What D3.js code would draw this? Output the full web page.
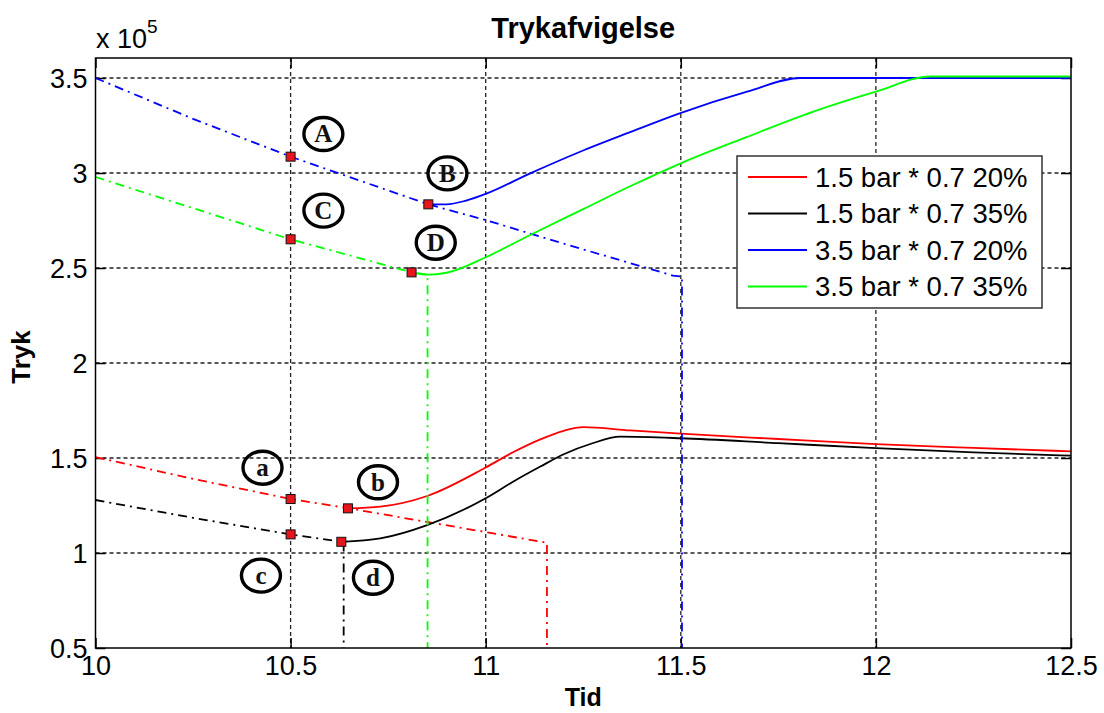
<!DOCTYPE html>
<html>
<head>
<meta charset="utf-8">
<script src="https://cdn.jsdelivr.net/npm/d3@7/dist/d3.min.js"></script>
<style>
  html, body { margin: 0; padding: 0; background: #fff; }
  svg { display: block; }
</style>
</head>
<body>
<svg id="chart" width="1104" height="713"></svg>
<script>
// ---------------- data (pressure in units of 1e5) ----------------
const xTicks = [10, 10.5, 11, 11.5, 12, 12.5];
const yTicks = [0.5, 1, 1.5, 2, 2.5, 3, 3.5];
const xTickLabels = ["10", "10.5", "11", "11.5", "12", "12.5"];
const yTickLabels = ["0.5", "1", "1.5", "2", "2.5", "3", "3.5"];

const seriesNames = ["1.5 bar * 0.7 20%", "1.5 bar * 0.7 35%", "3.5 bar * 0.7 20%", "3.5 bar * 0.7 35%"];
const seriesColors = ["#ff0000", "#000000", "#0000ff", "#00ff00"];

// dash-dot (pre-event) parts, ending with the vertical drop
const red20Dash   = [[10,1.505],[10.25,1.39],[10.5,1.284],[10.65,1.235],[10.82,1.174],[11.0,1.11],[11.157,1.054],[11.157,0.5]];
const black35Dash = [[10,1.279],[10.25,1.185],[10.5,1.098],[10.636,1.057],[10.636,0.5]];
const blue20Dash  = [[10,3.5],[10.25,3.285],[10.5,3.086],[10.853,2.835],[11.0,2.752],[11.2,2.628],[11.48,2.46],[11.503,2.455],[11.503,0.5]];
const green35Dash = [[10,2.979],[10.25,2.815],[10.5,2.651],[10.81,2.477],[10.851,2.465],[10.851,0.5]];

// solid (response) parts
const red20Solid   = [[10.647,1.235],[10.73,1.244],[10.85,1.30],[11.0,1.45],[11.07,1.53],[11.14,1.598],[11.2,1.643],[11.25,1.662],[11.37,1.645],[11.5,1.628],[11.75,1.60],[12.0,1.573],[12.25,1.553],[12.5,1.535]];
const black35Solid = [[10.63,1.059],[10.73,1.077],[10.85,1.147],[11.0,1.288],[11.07,1.375],[11.14,1.455],[11.2,1.52],[11.27,1.575],[11.345,1.612],[11.5,1.604],[11.75,1.578],[12.0,1.552],[12.25,1.53],[12.5,1.512]];
const blue20Solid  = [[10.853,2.835],[10.9,2.835],[10.95,2.855],[11.0,2.89],[11.114,2.998],[11.242,3.112],[11.37,3.215],[11.497,3.314],[11.67,3.428],[11.806,3.50],[12.5,3.50]];
const green35Solid = [[10.81,2.477],[10.85,2.465],[10.9,2.475],[10.999,2.555],[11.114,2.674],[11.25,2.81],[11.37,2.93],[11.5,3.051],[11.67,3.19],[11.84,3.323],[12.0,3.428],[12.14,3.508],[12.5,3.508]];

// red square markers
const markerPts = [[10.5,3.086],[10.853,2.835],[10.5,2.651],[10.81,2.477],[10.5,1.284],[10.647,1.235],[10.5,1.098],[10.63,1.059]];
// circled annotation letters
const noteLetters = ["A","B","C","D","a","b","c","d"];
const notePos = [[10.584,3.205],[10.902,2.998],[10.584,2.802],[10.872,2.633],[10.428,1.449],[10.724,1.372],[10.424,0.881],[10.711,0.870]];

// ---------------- layout ----------------
const SANS = "'Liberation Sans', Arial, sans-serif";
const SERIF = "'Liberation Serif', 'Times New Roman', serif";
const svg = d3.select("#chart");
const L = 95.5, R = 1071, T = 58, B = 648;
const x = d3.scaleLinear().domain([10, 12.5]).range([L, R]);
const y = d3.scaleLinear().domain([0.5, 3.6]).range([B, B - 3.1 * 190]);

// grid
const grid = svg.append("g").attr("stroke", "#222").attr("stroke-width", 1.3).attr("stroke-dasharray", "4,3");
xTicks.filter(v => v > 10 && v < 12.5).forEach(v => {
  grid.append("line").attr("x1", x(v)).attr("x2", x(v)).attr("y1", T).attr("y2", B);
});
yTicks.filter(v => v > 0.5).forEach(v => {
  grid.append("line").attr("x1", L).attr("x2", R).attr("y1", y(v)).attr("y2", y(v));
});

// axes using d3 axis generators (ticks inward, labels outside)
const fontSize = 27;
const xAxis = svg.append("g").attr("transform", `translate(0,${B})`)
  .call(d3.axisBottom(x).tickValues(xTicks).tickFormat((d, i) => xTickLabels[i]).tickSizeInner(-10).tickSizeOuter(0).tickPadding(12));
const yAxis = svg.append("g").attr("transform", `translate(${L},0)`)
  .call(d3.axisLeft(y).tickValues(yTicks).tickFormat((d, i) => yTickLabels[i]).tickSizeInner(-10).tickSizeOuter(0).tickPadding(8));
const xTop = svg.append("g").attr("transform", `translate(0,${T})`)
  .call(d3.axisTop(x).tickValues(xTicks).tickFormat("").tickSizeInner(-10).tickSizeOuter(0));
const yRight = svg.append("g").attr("transform", `translate(${R},0)`)
  .call(d3.axisRight(y).tickValues(yTicks).tickFormat("").tickSizeInner(-10).tickSizeOuter(0));
[xAxis, yAxis, xTop, yRight].forEach(g => {
  g.select(".domain").remove();
  g.selectAll("line").attr("stroke", "#000").attr("stroke-width", 1.5);
  g.selectAll("text").style("font-size", fontSize + "px").style("font-family", SANS).attr("fill", "#000");
});
xAxis.selectAll("text").attr("dy", "0.55em");
yAxis.selectAll("text").attr("dy", "0.36em");

// series
const lineLin = d3.line().x(d => x(d[0])).y(d => y(d[1]));
const lineSmooth = d3.line().x(d => x(d[0])).y(d => y(d[1])).curve(d3.curveMonotoneX);
const plot = svg.append("g");
const dashes = [red20Dash, black35Dash, blue20Dash, green35Dash];
const solids = [red20Solid, black35Solid, blue20Solid, green35Solid];
for (let i = 0; i < 4; i++) {
  plot.append("path").attr("d", lineLin(dashes[i])).attr("fill", "none")
    .attr("stroke", seriesColors[i]).attr("stroke-width", 1.8).attr("stroke-dasharray", "9,5,2,5");
  plot.append("path").attr("d", lineSmooth(solids[i])).attr("fill", "none")
    .attr("stroke", seriesColors[i]).attr("stroke-width", 1.8);
}

// axes box
svg.append("rect").attr("x", L).attr("y", T).attr("width", R - L).attr("height", B - T)
  .attr("fill", "none").attr("stroke", "#000").attr("stroke-width", 1.5);

// markers
plot.selectAll("rect.mk").data(markerPts).enter().append("rect").attr("class", "mk")
  .attr("x", d => x(d[0]) - 4.5).attr("y", d => y(d[1]) - 4.5).attr("width", 9).attr("height", 9)
  .attr("fill", "#e8141b").attr("stroke", "#111").attr("stroke-width", 1);

// annotations
const notes = svg.append("g");
notePos.forEach((p, i) => {
  const cx = x(p[0]), cy = y(p[1]);
  notes.append("ellipse").attr("cx", cx).attr("cy", cy).attr("rx", 19.5).attr("ry", 16.5)
    .attr("fill", "none").attr("stroke", "#000").attr("stroke-width", 3.4);
  notes.append("text").attr("x", cx).attr("y", cy).attr("dy", "0.33em").attr("text-anchor", "middle")
    .style("font-family", SERIF).style("font-size", "25px").style("font-weight", "bold")
    .attr("fill", "#111").text(noteLetters[i]);
});

// titles
svg.append("text").attr("x", (L + R) / 2).attr("y", 38).attr("text-anchor", "middle")
  .style("font-family", SANS).style("font-size", "29px").style("font-weight", "bold").text("Trykafvigelse");
svg.append("text").attr("x", (L + R) / 2).attr("y", 706).attr("text-anchor", "middle")
  .style("font-family", SANS).style("font-size", "25px").style("font-weight", "bold").text("Tid");
svg.append("text").attr("transform", "translate(30,357) rotate(-90)").attr("text-anchor", "middle")
  .style("font-family", SANS).style("font-size", "26px").style("font-weight", "bold").text("Tryk");
const exp = svg.append("text").attr("x", 96).attr("y", 48).style("font-family", SANS).style("font-size", "27px");
exp.append("tspan").text("x 10");
exp.append("tspan").attr("dy", -15).style("font-size", "19px").text("5");

// legend
const lg = svg.append("g");
lg.append("rect").attr("x", 737).attr("y", 156).attr("width", 305).attr("height", 152)
  .attr("fill", "#fff").attr("stroke", "#333").attr("stroke-width", 1.5);
seriesNames.forEach((n, i) => {
  const ly = 177 + i * 36.5;
  lg.append("line").attr("x1", 748).attr("x2", 807).attr("y1", ly).attr("y2", ly)
    .attr("stroke", seriesColors[i]).attr("stroke-width", 1.8);
  lg.append("text").attr("x", 815).attr("y", ly).attr("dy", "0.36em")
    .style("font-family", SANS).style("font-size", "27.5px")
    .attr("fill", "#000").text(n);
});
</script>
</body>
</html>
